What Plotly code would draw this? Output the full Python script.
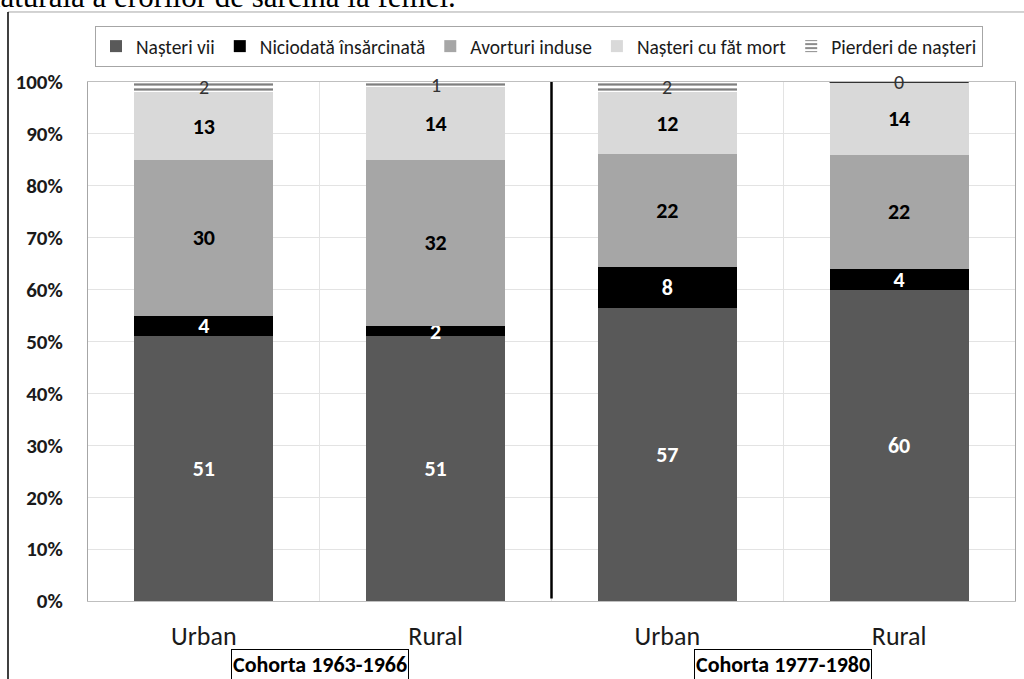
import plotly.graph_objects as go

# Categories (two cohorts x residence) and stacked series, in percent
residence = ["Urban", "Rural", "Urban", "Rural"]
cohorts = ["Cohorta 1963-1966", "Cohorta 1977-1980"]
nasteri_vii = [51, 51, 57, 60]
niciodata_insarcinata = [4, 2, 8, 4]
avorturi_induse = [30, 32, 22, 22]
nasteri_fat_mort = [13, 14, 12, 14]
pierderi_nasteri = [2, 1, 2, 0]
y_ticks = [0, 10, 20, 30, 40, 50, 60, 70, 80, 90, 100]
y_tick_labels = [f"{v}%" for v in y_ticks]

FONT = "Carlito, Lato, sans-serif"
xpos = list(range(len(residence)))

fig = go.Figure()

solid_series = [
    ("Nașteri vii", nasteri_vii, "#595959", "white"),
    ("Niciodată însărcinată", niciodata_insarcinata, "#000000", "white"),
    ("Avorturi induse", avorturi_induse, "#a6a6a6", "black"),
    ("Nașteri cu făt mort", nasteri_fat_mort, "#d9d9d9", "black"),
]
for name, vals, color, tcolor in solid_series:
    fig.add_trace(go.Bar(
        x=xpos, y=vals, name=name,
        marker=dict(color=color, line=dict(width=0)),
        text=vals, texttemplate="%{text}",
        textposition="inside", insidetextanchor="middle", textangle=0,
        textfont=dict(family=FONT, size=22, color=tcolor, weight="bold"),
        width=0.6,
    ))

# Striped top segment; its value labels are placed as annotations
fig.add_trace(go.Bar(
    x=xpos, y=pierderi_nasteri, name="Pierderi de nașteri",
    marker=dict(color="white", line=dict(width=0),
                pattern=dict(shape="-", fgcolor="black", bgcolor="white",
                             size=5, solidity=0.45)),
    width=0.6,
))

totals = [a + b + c + d + e for a, b, c, d, e in zip(
    nasteri_vii, niciodata_insarcinata, avorturi_induse,
    nasteri_fat_mort, pierderi_nasteri)]
for i, (v, t) in enumerate(zip(pierderi_nasteri, totals)):
    share = v / t * 100
    fig.add_annotation(x=i, y=100 - share / 2, xref="x", yref="y",
                       text=str(v), showarrow=False,
                       font=dict(family=FONT, size=20, color="#333333"))

# Cohort labels in boxes under each pair of bars
for k, c in enumerate(cohorts):
    fig.add_annotation(x=0.5 + 2 * k, y=-0.122, xref="x", yref="paper",
                       text=c, showarrow=False, yanchor="middle",
                       font=dict(family=FONT, size=22, color="black", weight="bold"),
                       bordercolor="black", borderwidth=1, borderpad=1,
                       bgcolor="white")

# Caption line of the surrounding text, cut by the top edge
fig.add_annotation(x=-0.1133, y=1.127, xref="paper", yref="paper",
                   xanchor="left", yanchor="bottom", showarrow=False,
                   text="naturală a erorilor de sarcină la femei.",
                   font=dict(family="Liberation Serif, serif", size=31, color="black"))

# Divider between the two cohorts
fig.add_shape(type="line", x0=1.5, x1=1.5, y0=0.5, y1=100, xref="x", yref="y",
              line=dict(color="black", width=2.5))

# Top edge of the striped bar with no losses
fig.add_shape(type="line", x0=2.7, x1=3.3, y0=100, y1=100, xref="x", yref="y",
              line=dict(color="#333333", width=2))

# Outer frame of the chart object (top and left edges visible)
fig.add_shape(type="line", xref="paper", yref="paper",
              x0=-0.0863, x1=1.2, y0=1.1349, y1=1.1349,
              line=dict(color="#a6a6a6", width=1))
fig.add_shape(type="line", xref="paper", yref="paper",
              x0=-0.0863, x1=-0.0863, y0=1.1349, y1=-0.3,
              line=dict(color="black", width=1.5))

fig.update_layout(
    barmode="stack", barnorm="percent",
    width=1024, height=679,
    margin=dict(l=88, r=9, t=82, b=78),
    paper_bgcolor="white", plot_bgcolor="white",
    font=dict(family=FONT, color="black"),
    uniformtext=dict(minsize=22, mode="show"),
    legend=dict(orientation="h", x=0.4865, xanchor="center",
                y=1.108, yanchor="top",
                font=dict(family=FONT, size=19.5, color="#1a1a1a"),
                bordercolor="#a6a6a6", borderwidth=1, bgcolor="white",
                itemsizing="constant", traceorder="normal",
                itemwidth=30),
    showlegend=True,
)

fig.update_xaxes(
    range=[-0.5, 3.5], tickvals=xpos, ticktext=residence,
    tickfont=dict(family=FONT, size=26, color="#1a1a1a"),
    ticks="", ticklabelstandoff=12, showgrid=False,
    minor=dict(tickvals=[0.5, 1.5, 2.5], showgrid=True,
               gridcolor="#e3e3e3", gridwidth=1, ticks=""),
    showline=True, linecolor="#bfbfbf", linewidth=1, mirror=True,
    zeroline=False,
)
fig.update_yaxes(
    range=[0, 100], tickvals=y_ticks, ticktext=y_tick_labels,
    tickfont=dict(family=FONT, size=21, color="#1a1a1a", weight="bold"),
    ticks="", ticklabelstandoff=20,
    showgrid=True, gridcolor="#e3e3e3", gridwidth=1,
    showline=True, linecolor="#a6a6a6", linewidth=1, mirror=True,
    zeroline=False,
)

fig.write_html("out.html")
